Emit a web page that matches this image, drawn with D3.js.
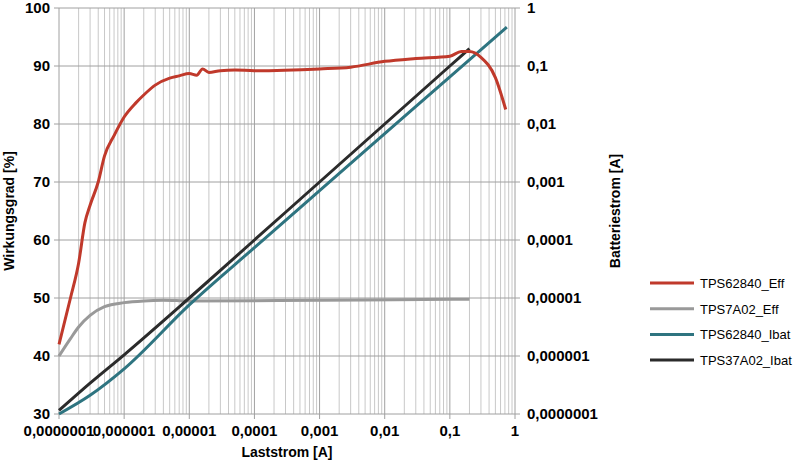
<!DOCTYPE html>
<html><head><meta charset="utf-8">
<script src="https://cdn.jsdelivr.net/npm/d3@7"></script>
<style>body{margin:0;background:#fff}text{font-family:"Liberation Sans",Arial,sans-serif}</style>
</head><body><svg id="c" width="800" height="468"></svg>
<script>
// Effizienz-Kurven (Laststrom A, Wirkungsgrad %)
const effTPS62840 = [[1e-7,42],[1.5e-7,50],[2e-7,56],[2.5e-7,63],[3e-7,66],[4e-7,70],[5e-7,74.5],[7e-7,78],[1e-6,81.2],[1.5e-6,83.6],[2e-6,85],[3e-6,86.7],[5e-6,87.9],[7e-6,88.3],[1e-5,88.7],[1.3e-5,88.4],[1.6e-5,89.5],[2e-5,88.9],[3e-5,89.2],[5e-5,89.3],[1e-4,89.2],[1e-3,89.5],[3e-3,89.8],[1e-2,90.8],[3e-2,91.3],[0.1,91.7],[0.15,92.5],[0.2,92.5],[0.3,91.5],[0.5,88],[0.72,82.5]]
const effTPS7A02 = [[1e-7,40],[1.5e-7,43],[2e-7,45],[3e-7,47],[5e-7,48.5],[1e-6,49.2],[2e-6,49.5],[4e-6,49.6],[1e-5,49.5],[1e-3,49.6],[0.2,49.8]]
// Batteriestrom (A)
const ibatTPS62840 = [[1e-7,1e-7],[3e-7,2.1e-7],[1e-6,6e-7],[1e-5,7.6e-6],[1e-4,7.4e-5],[1e-3,7.1e-4],[1e-2,6.8e-3],[0.1,0.065],[0.75,0.47]]
const ibatTPS37A02 = [[1e-7,1.15e-7],[3e-7,3.4e-7],[1e-6,1.05e-6],[1e-5,1e-5],[1e-4,1e-4],[1e-3,1e-3],[1e-2,1e-2],[0.1,0.1],[0.2,0.2]]
const xTicks = [1e-7,1e-6,1e-5,1e-4,1e-3,1e-2,0.1,1]
const xTickLabels = ["0,0000001","0,000001","0,00001","0,0001","0,001","0,01","0,1","1"]
const yTicks = [30,40,50,60,70,80,90,100]
const y2Ticks = [1e-7,1e-6,1e-5,1e-4,1e-3,1e-2,0.1,1]
const y2TickLabels = ["0,0000001","0,000001","0,00001","0,0001","0,001","0,01","0,1","1"]
const seriesNames = ["TPS62840_Eff","TPS7A02_Eff","TPS62840_Ibat","TPS37A02_Ibat"]
const seriesColors = ["#c0392b","#999999","#2e7480","#2b2b2b"]

const svg = d3.select("#c")
const L = 59, R = 515, T = 8, B = 414
const x = d3.scaleLog().domain([1e-7,1]).range([L,R])
const y = d3.scaleLinear().domain([30,100]).range([B,T])
const y2 = d3.scaleLog().domain([1e-7,1]).range([B,T])

// Gitter
const minor = []
for (let e = -7; e < 0; e++) for (let k = 2; k <= 9; k++) minor.push(k * Math.pow(10, e))
svg.append("g").selectAll("line").data(minor).join("line")
  .attr("x1", d => x(d)).attr("x2", d => x(d)).attr("y1", T).attr("y2", B)
  .attr("stroke", "#c8c8c8").attr("stroke-width", 1)
svg.append("g").selectAll("line").data(xTicks).join("line")
  .attr("x1", d => x(d)).attr("x2", d => x(d)).attr("y1", T).attr("y2", B + 5)
  .attr("stroke", "#a0a0a0").attr("stroke-width", 1)
svg.append("g").selectAll("line").data(yTicks).join("line")
  .attr("x1", L - 5).attr("x2", R + 5).attr("y1", d => y(d)).attr("y2", d => y(d))
  .attr("stroke", "#a0a0a0").attr("stroke-width", 1)

// Achsenbeschriftung
svg.append("g").selectAll("text").data(yTicks).join("text")
  .attr("x", L - 9).attr("y", d => y(d) + 5).attr("text-anchor", "end")
  .attr("font-size", 15).attr("font-weight", "bold").text(d => d)
svg.append("g").selectAll("text").data(y2Ticks).join("text")
  .attr("x", R + 12).attr("y", d => y2(d) + 5)
  .attr("font-size", 15).attr("font-weight", "bold").text((d, i) => y2TickLabels[i])
svg.append("g").selectAll("text").data(xTicks).join("text")
  .attr("x", d => x(d)).attr("y", B + 22).attr("text-anchor", "middle")
  .attr("font-size", 15).attr("font-weight", "bold").text((d, i) => xTickLabels[i])
svg.append("text").attr("x", (L + R) / 2).attr("y", B + 43).attr("text-anchor", "middle")
  .attr("font-size", 14).attr("font-weight", "bold").text("Laststrom [A]")
svg.append("text").attr("transform", `translate(14,${(T + B) / 2}) rotate(-90)`).attr("text-anchor", "middle")
  .attr("font-size", 14).attr("font-weight", "bold").text("Wirkungsgrad [%]")
svg.append("text").attr("transform", `translate(620,${(T + B) / 2}) rotate(-90)`).attr("text-anchor", "middle")
  .attr("font-size", 14).attr("font-weight", "bold").text("Batteriestrom [A]")

// Kurven
const lineEff = d3.line().x(d => x(d[0])).y(d => y(d[1])).curve(d3.curveMonotoneX)
const lineIbat = d3.line().x(d => x(d[0])).y(d => y2(d[1])).curve(d3.curveMonotoneX)
const sets = [[effTPS7A02, lineEff, 1], [ibatTPS62840, lineIbat, 2], [ibatTPS37A02, lineIbat, 3], [effTPS62840, lineEff, 0]]
sets.forEach(([data, gen, i]) => {
  svg.append("path").attr("d", gen(data)).attr("fill", "none")
    .attr("stroke", seriesColors[i]).attr("stroke-width", 3).attr("stroke-linejoin", "round")
})

// Legende
const lg = svg.append("g").selectAll("g").data(seriesNames).join("g")
  .attr("transform", (d, i) => `translate(650,${283 + i * 25.7})`)
lg.append("line").attr("x1", 0).attr("x2", 44).attr("stroke", (d, i) => seriesColors[i]).attr("stroke-width", 3)
lg.append("text").attr("x", 50).attr("y", 5).attr("font-size", 13).text(d => d)
</script></body></html>
